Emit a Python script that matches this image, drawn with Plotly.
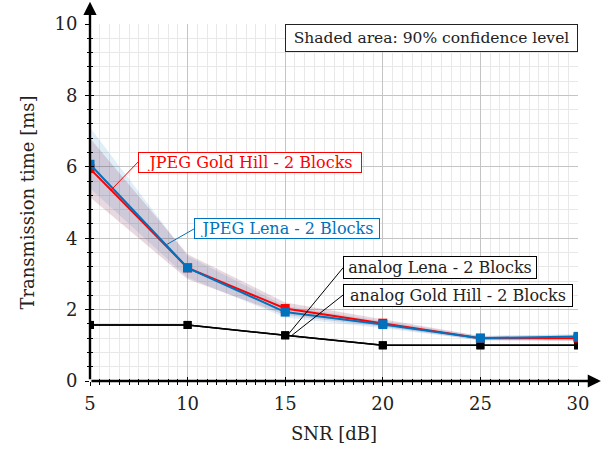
import plotly.graph_objects as go

snr = [5, 10, 15, 20, 25, 30]

jpeg_goldhill = [5.95, 3.17, 2.03, 1.62, 1.20, 1.20]
jpeg_goldhill_lo = [5.15, 2.85, 1.85, 1.52, 1.14, 1.12]
jpeg_goldhill_hi = [6.80, 3.55, 2.20, 1.72, 1.26, 1.28]

jpeg_lena = [6.07, 3.17, 1.93, 1.58, 1.20, 1.25]
jpeg_lena_lo = [5.40, 2.90, 1.78, 1.48, 1.14, 1.18]
jpeg_lena_hi = [7.10, 3.50, 2.10, 1.68, 1.26, 1.32]

analog_lena = [1.57, 1.57, 1.28, 1.00, 1.00, 1.00]
analog_goldhill = [1.57, 1.57, 1.28, 1.00, 1.00, 1.00]

RED = "#ff0000"
BLUE = "#0072bd"
TXT = "#222222"
FONT = "DejaVu Serif"

fig = go.Figure()

# confidence bands
fig.add_trace(go.Scatter(x=snr, y=jpeg_lena_lo, mode="lines", line=dict(width=0),
                         showlegend=False, hoverinfo="skip"))
fig.add_trace(go.Scatter(x=snr, y=jpeg_lena_hi, mode="lines", line=dict(width=0),
                         fill="tonexty", fillcolor="rgba(0,114,189,0.12)",
                         showlegend=False, hoverinfo="skip"))
fig.add_trace(go.Scatter(x=snr, y=jpeg_goldhill_lo, mode="lines", line=dict(width=0),
                         showlegend=False, hoverinfo="skip"))
fig.add_trace(go.Scatter(x=snr, y=jpeg_goldhill_hi, mode="lines", line=dict(width=0),
                         fill="tonexty", fillcolor="rgba(110,20,60,0.16)",
                         showlegend=False, hoverinfo="skip"))

# analog
fig.add_trace(go.Scatter(x=snr, y=analog_goldhill, mode="lines+markers",
                         line=dict(color="black", width=1.5),
                         marker=dict(symbol="square", size=8, color="black"),
                         showlegend=False))
fig.add_trace(go.Scatter(x=snr, y=analog_lena, mode="lines+markers",
                         line=dict(color="black", width=1.5),
                         marker=dict(symbol="square", size=8, color="black"),
                         showlegend=False))
# jpeg
fig.add_trace(go.Scatter(x=snr, y=jpeg_goldhill, mode="lines+markers",
                         line=dict(color=RED, width=2),
                         marker=dict(symbol="square", size=9, color=RED),
                         showlegend=False))
fig.add_trace(go.Scatter(x=snr, y=jpeg_lena, mode="lines+markers",
                         line=dict(color=BLUE, width=2),
                         marker=dict(symbol="square", size=9, color=BLUE),
                         showlegend=False))

# invisible trace for overlay axes (inside ticks)
fig.add_trace(go.Scatter(x=[5, 30], y=[0, 10], xaxis="x2", yaxis="y2", mode="markers",
                         marker=dict(opacity=0), showlegend=False, hoverinfo="skip"))

axis_common = dict(showline=False, zeroline=False, ticks="outside", tickwidth=1.3,
                   tickcolor="black", ticklen=4,
                   tickfont=dict(family=FONT, size=18, color=TXT))

fig.update_layout(
    width=611, height=452,
    margin=dict(l=90, r=33, t=24, b=71),
    paper_bgcolor="white", plot_bgcolor="white",
    font=dict(family=FONT, color=TXT),
    showlegend=False,
    xaxis=dict(range=[5, 30], tick0=5, dtick=5, showgrid=True, gridcolor="#c4c4c4", gridwidth=1,
               minor=dict(dtick=0.5, showgrid=True, gridcolor="#e8e8e8", ticks="outside",
                          ticklen=2.5, tickcolor="black", tickwidth=1),
               title=dict(text="SNR [dB]", font=dict(family=FONT, size=18, color=TXT), standoff=14),
               ticklabelstandoff=2,
               **axis_common),
    yaxis=dict(range=[0, 10], tick0=0, dtick=2, showgrid=True, gridcolor="#c4c4c4", gridwidth=1,
               minor=dict(dtick=0.4, showgrid=True, gridcolor="#e8e8e8", ticks="outside",
                          ticklen=2.5, tickcolor="black", tickwidth=1),
               title=dict(text="Transmission time [ms]", font=dict(family=FONT, size=18, color=TXT),
                          standoff=15),
               ticklabelstandoff=4,
               **axis_common),
    xaxis2=dict(overlaying="x", range=[5, 30], tick0=5, dtick=5, showgrid=False, zeroline=False,
                showticklabels=False, ticks="inside", ticklen=4, tickwidth=1.3, tickcolor="black",
                minor=dict(dtick=0.5, ticks="inside", ticklen=2.5, tickcolor="black", tickwidth=1),
                anchor="y2", side="bottom"),
    yaxis2=dict(overlaying="y", range=[0, 10], tick0=0, dtick=2, showgrid=False, zeroline=False,
                showticklabels=False, ticks="inside", ticklen=4, tickwidth=1.3, tickcolor="black",
                minor=dict(dtick=0.4, ticks="inside", ticklen=2.5, tickcolor="black", tickwidth=1),
                anchor="x2", side="left"),
)

# axis lines with arrowheads (tail at the origin)
fig.add_annotation(x=1.047, y=0, xref="paper", yref="paper", ax=-511, ay=0,
                   axref="pixel", ayref="pixel", text="", showarrow=True,
                   arrowhead=2, arrowsize=1.1, arrowwidth=2.4, arrowcolor="black")
fig.add_annotation(x=0, y=1.062, xref="paper", yref="paper", ax=0, ay=379,
                   axref="pixel", ayref="pixel", text="", showarrow=True,
                   arrowhead=2, arrowsize=1.1, arrowwidth=2.4, arrowcolor="black")

# callouts
def callout(x, y, text, ax, ay, color, width, height, tcolor):
    fig.add_annotation(x=x, y=y, xref="x", yref="y", text=text, showarrow=True,
                       ax=ax, ay=ay, axref="pixel", ayref="pixel",
                       xanchor="left", yanchor="middle",
                       arrowhead=0, arrowwidth=1, arrowcolor=color,
                       font=dict(family=FONT, size=16, color=tcolor),
                       bgcolor="white", bordercolor=color, borderwidth=1, borderpad=1,
                       width=width, height=height)

callout(6.08, 5.35, "JPEG Gold Hill - 2 Blocks", 27, -28, RED, 220, 17, RED)
callout(8.89, 3.81, "JPEG Lena - 2 Blocks", 28, -16, BLUE, 182, 17, BLUE)
callout(15.1, 1.27, "analog Lena - 2 Blocks", 56, -68, "black", 190, 19, TXT)
callout(15.3, 1.26, "analog Gold Hill - 2 Blocks", 52, -41, "black", 226, 19, TXT)

fig.add_annotation(x=1, y=1, xref="paper", yref="paper", xanchor="right", yanchor="top",
                   text="Shaded area: 90% confidence level", showarrow=False,
                   font=dict(family=FONT, size=15.5, color=TXT),
                   bgcolor="white", bordercolor=TXT, borderwidth=1, borderpad=3,
                   width=285, height=20)

fig.write_html("out.html", config={"displayModeBar": False},
               post_script="document.body.style.margin='0px';document.body.style.overflow='hidden';")
